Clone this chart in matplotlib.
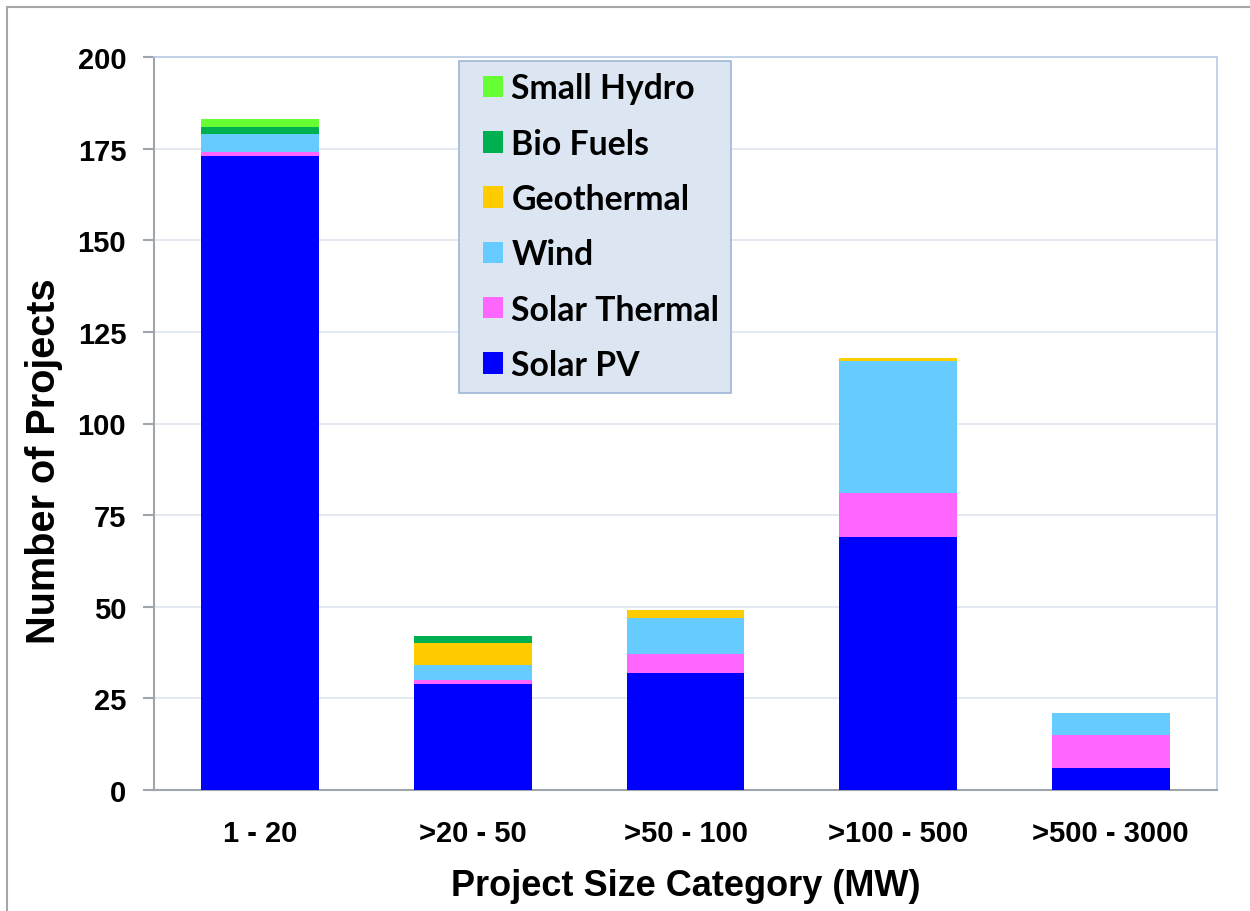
import numpy as np
import matplotlib.pyplot as plt
from matplotlib.patches import Rectangle
from matplotlib.legend_handler import HandlerPatch

# Project size categories and project counts per technology
categories = ['1 - 20', '>20 - 50', '>50 - 100', '>100 - 500', '>500 - 3000']
solar_pv = [173, 29, 32, 69, 6]
solar_thermal = [1, 1, 5, 12, 9]
wind = [5, 4, 10, 36, 6]
geothermal = [0, 6, 2, 1, 0]
bio_fuels = [2, 2, 0, 0, 0]
small_hydro = [2, 0, 0, 0, 0]

series = [
    ('Solar PV', solar_pv, '#0000ff'),
    ('Solar Thermal', solar_thermal, '#ff66ff'),
    ('Wind', wind, '#66ccff'),
    ('Geothermal', geothermal, '#ffcc00'),
    ('Bio Fuels', bio_fuels, '#00b050'),
    ('Small Hydro', small_hydro, '#66ff33'),
]

fig = plt.figure(figsize=(12.5, 9.12), dpi=100)
ax = fig.add_axes([154 / 1250, 1 - 791 / 912, (1217 - 154) / 1250, (791 - 58) / 912])

# outer chart border
fig.patches.append(Rectangle((7 / 1250, -0.01), 1.02, 1 - 8 / 912 + 0.01,
                             transform=fig.transFigure, fill=False,
                             edgecolor='#a6a6a6', linewidth=1.5))

x = np.arange(len(categories))
bottom = np.zeros(len(categories))
handles = []
for name, vals, col in series:
    b = ax.bar(x, vals, 0.555, bottom=bottom, color=col, label=name, zorder=3)
    handles.append(b.patches[0])
    bottom += np.array(vals)

ax.set_xlim(-0.5, len(categories) - 0.5)
ax.set_ylim(0, 200)
ax.set_yticks(np.arange(0, 201, 25))
ax.grid(axis='y', color='#dfe6f0', linewidth=1.2, zorder=0)
ax.set_axisbelow(True)

for s in ['left', 'bottom']:
    ax.spines[s].set_color('#a0a4ab')
    ax.spines[s].set_linewidth(1.5)
for s in ['top', 'right']:
    ax.spines[s].set_color('#b8cce4')
    ax.spines[s].set_linewidth(1.2)

ax.tick_params(axis='y', length=8, width=1.5, color='#a0a4ab', pad=12)
ax.tick_params(axis='x', length=0, pad=21)
ax.set_xticks(x)
ax.set_xticklabels(categories)
for lab in ax.get_xticklabels() + ax.get_yticklabels():
    lab.set_fontfamily('Liberation Sans')
    lab.set_fontweight('bold')
    lab.set_fontsize(21)

ax.set_ylabel('Number of Projects', fontsize=28.5, fontweight='bold',
              fontfamily='Liberation Sans')
ax.yaxis.set_label_coords(-0.086, 0.45)
ax.set_xlabel('Project Size Category (MW)', fontsize=26, fontweight='bold',
              fontfamily='Liberation Sans', labelpad=15)

# legend squares shifted right inside a longer handle slot
leg = ax.legend(handles[::-1], [s[0] for s in series][::-1],
                loc='upper left', bbox_to_anchor=(0.287, 0.995),
                handler_map={Rectangle: HandlerPatch(xpad=0.35)},
                prop={'family': 'Lato', 'weight': 'bold', 'size': 24.3},
                facecolor='#dce6f2', edgecolor='#9fb6d6', fancybox=False,
                framealpha=1, handlelength=0.95, handleheight=0.6,
                handletextpad=0.25, labelspacing=0.69, borderpad=0.35,
                borderaxespad=0)
leg.get_frame().set_linewidth(1.2)

fig.savefig('out.png', dpi=100)
